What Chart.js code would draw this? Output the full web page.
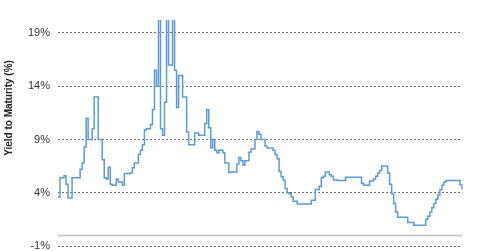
<!DOCTYPE html>
<html>
<head>
<meta charset="utf-8">
<script src="https://cdn.jsdelivr.net/npm/chart.js@4"></script>
<style>
  html, body { margin: 0; padding: 0; background: #fff; }
  #wrap { width: 480px; height: 251px; }
</style>
</head>
<body>
<div id="wrap"><canvas id="chart" width="480" height="251"></canvas></div>
<script>
// yield to maturity (%), one reading per period, left to right
const yieldValues = [
    3.6, 5.4, 5.4, 5.6, 4.8, 3.5, 3.5, 5.4, 5.4, 5.4,
    5.4, 6.2, 6.8, 8.3, 11.0, 9.0, 9.0, 10.0, 13.0, 13.0,
    9.0, 9.0, 7.1, 5.4, 5.3, 6.4, 4.8, 4.7, 4.7, 5.3,
    5.0, 5.0, 4.7, 5.8, 5.8, 5.8, 5.85, 6.35, 6.8, 6.8,
    7.6, 8.0, 8.5, 9.9, 10.0, 10.0, 10.4, 11.8, 15.5, 14.0,
    21, 10.0, 9.4, 12.5, 21, 16, 16, 21, 15.5, 12.0,
    15.0, 15.0, 13.0, 13.0, 9.7, 8.5, 8.5, 8.5, 9.6, 9.6,
    9.4, 9.4, 9.4, 10.5, 11.8, 10.1, 8.2, 9.0, 8.0, 7.75,
    8.0, 8.0, 7.75, 6.8, 6.8, 5.9, 5.95, 5.95, 5.95, 6.7,
    7.3, 7.0, 6.6, 7.0, 7.0, 7.8, 8.1, 8.1, 9.0, 9.75,
    9.5, 9.0, 9.0, 8.4, 8.2, 8.2, 8.2, 8.0, 7.6, 7.2,
    6.0, 5.5, 5.2, 4.4, 4.0, 3.9, 3.6, 3.2, 3.2, 2.95,
    2.95, 2.95, 2.95, 2.95, 2.95, 2.95, 3.3, 3.3, 4.3, 4.3,
    4.6, 5.4, 5.55, 5.95, 5.95, 5.7, 5.55, 5.2, 5.2, 5.15,
    5.15, 5.15, 5.15, 5.45, 5.45, 5.45, 5.45, 5.45, 5.45, 5.45,
    5.45, 4.9, 4.7, 4.7, 4.7, 5.1, 5.1, 5.3, 5.55, 5.85,
    6.1, 6.5, 6.5, 6.5, 5.85, 4.8, 3.9, 3.0, 2.2, 1.7,
    1.7, 1.7, 1.7, 1.7, 1.2, 1.2, 1.2, 0.95, 0.95, 0.95,
    0.95, 0.95, 0.95, 1.5, 1.8, 2.2, 2.6, 3.0, 3.4, 3.8,
    4.3, 4.7, 5.0, 5.15, 5.15, 5.15, 5.15, 5.15, 5.15, 5.15,
    4.75, 4.3
];
const periodLabels = yieldValues.map((_, i) => i);
const yTickValues = [-1, 4, 9, 14, 19];
const yMin = -1;
const yMax = 20.22;
const yTitle = 'Yield to Maturity (%)';

const zeroLine = {
    id: 'zeroLine',
    beforeDatasetsDraw(chart) {
        const { ctx, chartArea, scales } = chart;
        const y = Math.round(scales.y.getPixelForValue(0)) + 0.5;
        ctx.save();
        ctx.strokeStyle = '#bfbfbf';
        ctx.lineWidth = 1.5;
        ctx.beginPath();
        ctx.moveTo(chartArea.left, y);
        ctx.lineTo(chartArea.right, y);
        ctx.stroke();
        ctx.restore();
    }
};

const axisTitle = {
    id: 'axisTitle',
    afterDraw(chart) {
        const { ctx } = chart;
        ctx.save();
        ctx.translate(9, 108);
        ctx.rotate(-Math.PI / 2);
        ctx.font = 'bold 10px "Liberation Sans", Arial, sans-serif';
        ctx.fillStyle = '#222';
        ctx.textAlign = 'center';
        ctx.textBaseline = 'middle';
        ctx.fillText(yTitle, 0, 0);
        ctx.restore();
    }
};

new Chart(document.getElementById('chart'), {
    type: 'line',
    data: {
        labels: periodLabels,
        datasets: [{
            data: yieldValues,
            stepped: true,
            borderColor: '#5b9bd5',
            borderWidth: 1.5,
            pointRadius: 0,
            fill: false
        }]
    },
    options: {
        responsive: false,
        animation: false,
        layout: { padding: { top: 20, right: 18, bottom: 5, left: 0 } },
        plugins: { legend: { display: false }, tooltip: { enabled: false } },
        scales: {
            x: { display: false },
            y: {
                min: yMin,
                max: yMax,
                afterBuildTicks(axis) {
                    axis.ticks = yTickValues.map(v => ({ value: v }));
                },
                afterFit(axis) { axis.width = 58; },
                border: { display: false, dash: [2, 2] },
                grid: {
                    color: '#6e6e6e',
                    lineWidth: 1,
                    drawTicks: true,
                    tickLength: 8,
                    tickColor: 'rgba(0,0,0,0)'
                },
                ticks: {
                    padding: 0,
                    color: '#333',
                    font: { family: '"Liberation Sans", Arial, sans-serif', size: 11, lineHeight: 0.8 },
                    callback: v => v + '%'
                }
            }
        }
    },
    plugins: [zeroLine, axisTitle]
});
</script>
</body>
</html>
